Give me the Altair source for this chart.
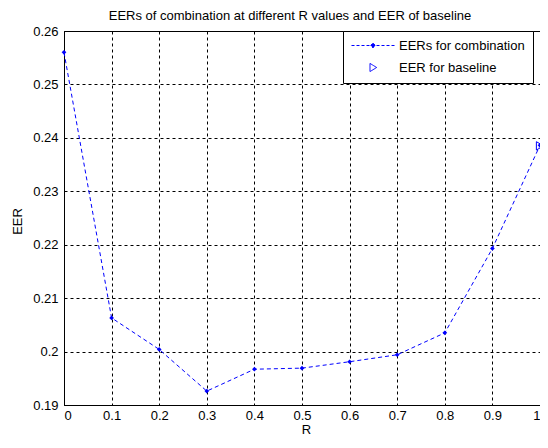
import altair as alt
import pandas as pd

# ---- data ----
R_values = [0.0, 0.1, 0.2, 0.3, 0.4, 0.5, 0.6, 0.7, 0.8, 0.9, 1.0]
eer_combination = [0.2560, 0.2063, 0.2004, 0.1926, 0.1967, 0.1969, 0.1981, 0.1994, 0.2035, 0.2193, 0.2386]
baseline_R = [1.0]
baseline_eer = [0.2385]
series_names = ["EERs for combination", "EER for baseline"]
x_ticks = [0, 0.1, 0.2, 0.3, 0.4, 0.5, 0.6, 0.7, 0.8, 0.9, 1.0]
y_ticks = [0.19, 0.20, 0.21, 0.22, 0.23, 0.24, 0.25, 0.26]
title_text = "EERs of combination at different R values and EER of baseline"

comb = pd.DataFrame({"R": R_values, "EER": eer_combination, "series": series_names[0]})
base = pd.DataFrame({"R": baseline_R, "EER": baseline_eer, "series": series_names[1]})
both = pd.concat([comb, base], ignore_index=True)

FONT = "Liberation Sans"
BLUE = "#0000ff"
PLOT_W = 476
PLOT_H = 374

x_enc = alt.X(
    "R:Q",
    scale=alt.Scale(domain=[0, 1], nice=False, zero=False),
    axis=alt.Axis(values=x_ticks, format="~g", title="R", titleX=242, titleY=24,
                  titleBaseline="middle", titleAlign="center"),
)
y_enc = alt.Y(
    "EER:Q",
    scale=alt.Scale(domain=[0.19, 0.26], nice=False, zero=False),
    axis=alt.Axis(values=y_ticks, format="~g", title="EER", titleX=-47, titleY=190,
                  titleBaseline="middle", titleAlign="center", titleAngle=-90),
)

# legend symbols: dashed line with a diamond, and a hollow right-pointing triangle
legend_shapes = ["M-1,0H1M0,-0.11L0.11,0L0,0.11L-0.11,0Z", "M-0.14,-0.19L0.17,0L-0.14,0.19Z"]

legend = alt.Legend(
    title=None,
    orient="none",
    legendX=279,
    legendY=0,
    padding=8,
    fillColor="white",
    strokeColor="#000000",
    clipHeight=13,
    rowPadding=8,
    symbolSize=1849,
    symbolStrokeWidth=1,
    labelOffset=4,
    labelFont=FONT,
    labelFontSize=13,
    labelColor="#000000",
)

line = alt.Chart(comb).mark_line(strokeDash=[4, 3], strokeWidth=1, color=BLUE).encode(
    x=x_enc,
    y=y_enc,
)

dots = alt.Chart(comb).mark_point(shape="diamond", filled=True, size=22, color=BLUE, opacity=1).encode(
    x="R:Q", y="EER:Q"
)

tri = alt.Chart(base).mark_point(shape="triangle-right", filled=False, size=70, color=BLUE,
                                 strokeWidth=1, opacity=1).encode(x="R:Q", y="EER:Q")

# empty layer that only carries the legend
legend_layer = alt.Chart(both).transform_filter("false").mark_point(size=1849, opacity=1, strokeWidth=1).encode(
    x="R:Q",
    y="EER:Q",
    stroke=alt.Stroke("series:N", scale=alt.Scale(domain=series_names, range=[BLUE, BLUE]), legend=legend),
    fill=alt.Fill("series:N", scale=alt.Scale(domain=series_names, range=[BLUE, "transparent"]), legend=legend),
    shape=alt.Shape("series:N", scale=alt.Scale(domain=series_names, range=legend_shapes), legend=legend),
    strokeDash=alt.StrokeDash("series:N", scale=alt.Scale(domain=series_names, range=[[3, 2], [1, 0]]), legend=legend),
)

chart = (
    alt.layer(line, dots, tri, legend_layer)
    .properties(
        width=PLOT_W,
        height=PLOT_H,
        background="white",
        autosize=alt.AutoSizeParams(type="none"),
        padding={"left": 56, "top": 23, "right": 0, "bottom": 31},
        title=alt.TitleParams(title_text, font=FONT, fontSize=13, fontWeight="normal",
                              color="#000000", anchor="middle", offset=2, dx=-12),
    )
    .configure_view(stroke="#000000", strokeWidth=1)
    .configure_axis(
        domainColor="#000000",
        domainWidth=1,
        ticks=False,
        grid=True,
        gridColor="#000000",
        gridDash=[3, 3],
        gridWidth=1,
        gridOpacity=1,
        labelFont=FONT,
        labelFontSize=13,
        labelColor="#000000",
        labelPadding=6,
        titleFont=FONT,
        titleFontSize=13,
        titleFontWeight="normal",
        titleColor="#000000",
    )
    .configure_axisX(labelPadding=4)
)

chart.save("out.html", embed_options={"renderer": "svg", "actions": False})
